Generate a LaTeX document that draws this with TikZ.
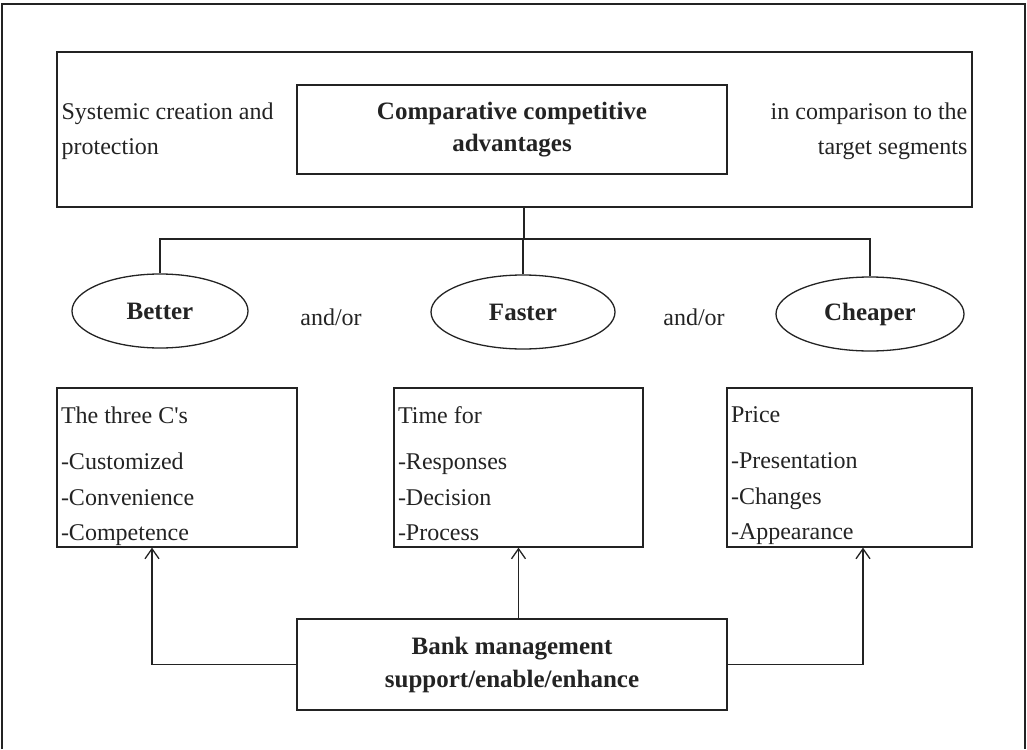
\documentclass[tikz,border=0pt]{standalone}
\usepackage{fontspec}
\setmainfont{Liberation Serif}
\usetikzlibrary{shapes.geometric,arrows.meta}
\definecolor{ink}{RGB}{35,35,35}

\begin{document}
\begin{tikzpicture}[x=0.5pt,y=-0.5pt,line width=0.65pt,color=ink,
  txt/.style={font=\fontsize{12}{17.5}\selectfont,inner sep=0pt},
  heading/.style={font=\fontsize{12.5}{16}\selectfont\bfseries,align=center,inner sep=0pt},
  box/.style={draw,rectangle,inner sep=0pt},
  oval/.style={draw,ellipse,inner sep=0pt,minimum height=37pt,font=\fontsize{12.5}{14}\selectfont\bfseries},
  list/.style={font=\fontsize{12}{17.75}\selectfont,align=left,inner sep=0pt,anchor=north west},
  arr/.style={-{Straight Barb[length=5pt,width=7pt]}}]
  \useasboundingbox (0,0) rectangle (1027,749);
  \draw[line width=1.2pt] (2,749) -- (2,4) -- (1025,4) -- (1025,749);

  \node[box,minimum width=457.5pt,minimum height=77.5pt] (topbox) at (514.5,129.5) {};
  \node[box,heading,minimum width=215pt,minimum height=44.5pt] (title) at (512,129.5) {Comparative competitive\\advantages};
  \node[txt,align=left,anchor=west] (systemic) at (61,131) {Systemic creation and\\protection};
  \node[txt,align=right,anchor=east] (segments) at (968,131) {in comparison to the\\target segments};

  \node[oval,minimum width=88pt] (better) at (160,311) {Better};
  \node[oval,minimum width=92pt] (faster) at (523,312) {Faster};
  \node[oval,minimum width=94pt] (cheaper) at (870,314) {Cheaper};
  \node[txt] (andor1) at (331,317) {and/or};
  \node[txt] (andor2) at (694,317) {and/or};

  \coordinate (bus) at (524,239);
  \draw (bus |- topbox.south) -- (bus);
  \draw (better.north) |- (cheaper.north |- bus) -- (cheaper.north);
  \draw (faster.north) -- (faster.north |- bus);

  \node[box,minimum width=120pt,minimum height=79.5pt] (threec) at (177,467.5) {};
  \node[box,minimum width=124.5pt,minimum height=79.5pt] (timefor) at (518.5,467.5) {};
  \node[box,minimum width=122.5pt,minimum height=79.5pt] (price) at (849.5,467.5) {};
  \node[list] (threectxt) at ([shift={(4,19)}]threec.north west) {The three C\textquotesingle{}s\\[5.25pt]-Customized\\-Convenience\\-Competence};
  \node[list] (timefortxt) at ([shift={(4,19)}]timefor.north west) {Time for\\[5.25pt]-Responses\\-Decision\\-Process};
  \node[list] (pricetxt) at ([shift={(4,19)}]price.north west) {Price\\[5.25pt]-Presentation\\-Changes\\-Appearance};

  \node[box,heading,font=\fontsize{12.5}{16.5}\selectfont\bfseries,minimum width=215pt,minimum height=45.5pt] (bank) at (512,664.5) {Bank management\\support/enable/enhance};
  \draw[arr] (bank.west) -| ([xshift=-12.5pt]threec.south);
  \draw[arr] (bank.north -| timefor.south) -- (timefor.south);
  \draw[arr] (bank.east) -| ([xshift=6.75pt]price.south);
\end{tikzpicture}
\end{document}
